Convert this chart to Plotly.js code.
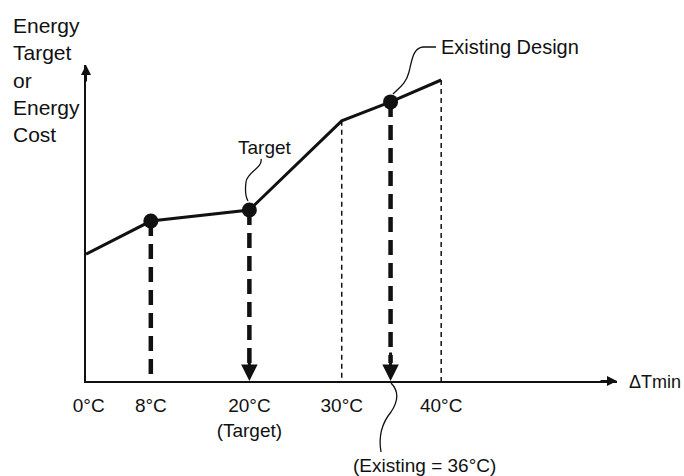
<!DOCTYPE html>
<html>
<head>
<meta charset="utf-8">
<script src="https://cdn.plot.ly/plotly-3.0.1.min.js"></script>
<style>html,body{margin:0;padding:0;background:#fff;}#chart{width:684px;height:476px;}</style>
</head>
<body>
<div id="chart"></div>
<script>
// ---- data (schematic positions) ----
const curveX = [0, 7.3, 18.4, 28.8, 34.3, 40];
const curveY = [42.3, 53.3, 57, 86.7, 93, 100.3];
const pointX = [7.3, 18.4, 34.3];
const pointY = [53.3, 57, 93];
const pointArrow = [false, true, true];
const refX = [28.8, 40];
const refY = [86.7, 100.3];
const tickPos = [0.3, 7.3, 18.4, 28.8, 40];
const tickText = ['0°C', '8°C', '20°C<br>(Target)', '30°C', '40°C'];
const yTitle = 'Energy<br>Target<br>or<br>Energy<br>Cost';
const xTitle = 'ΔTmin';
const targetLabel = 'Target';
const existingLabel = 'Existing Design';
const existingValue = '(Existing = 36°C)';

// ---- layout geometry ----
const L = 86, R = 67, T = 65, Bm = 95, Wd = 684, Ht = 476;
const W = Wd - L - R, H = Ht - T - Bm, BASE = T + H;
const xMax = 59.8, yMax = 105.3;
const FONT = '"Liberation Sans", Arial, sans-serif';
const INK = '#111';
function px(x) { return (x - L) / W; }
function py(y) { return (BASE - y) / H; }
function pt(p) { return px(p[0]) + ',' + py(p[1]); }
function curve(start, segs) { // pixel points -> paper path
  let s = 'M' + pt(start);
  segs.forEach(g => { s += (g.length === 1 ? ' L' : ' C') + g.map(pt).join(' '); });
  return s;
}

const traces = [];
// thin dashed reference lines
refX.forEach((x, i) => traces.push({
  x: [x, x], y: [refY[i], 0], mode: 'lines', hoverinfo: 'skip',
  line: {color: INK, width: 1.5, dash: '5px,4px'}
}));
// thick dashed drop lines
pointX.forEach((x, i) => traces.push({
  x: [x, x], y: [pointY[i], pointArrow[i] ? 6 : 0], mode: 'lines', hoverinfo: 'skip',
  line: {color: INK, width: 4.5, dash: '15px,8px'}
}));
// main curve
traces.push({x: curveX, y: curveY, mode: 'lines', line: {color: INK, width: 3}, hoverinfo: 'skip'});
// markers
traces.push({x: pointX, y: pointY, mode: 'markers', hoverinfo: 'skip',
  marker: {color: INK, size: 15, line: {width: 0}}});

const annotations = [
  {xref: 'paper', yref: 'paper', x: px(11), y: py(12), xanchor: 'left', yanchor: 'top', align: 'left',
   showarrow: false, text: yTitle, font: {family: FONT, size: 21, color: INK}},
  {xref: 'paper', yref: 'paper', x: px(265), y: py(147), xanchor: 'center', yanchor: 'middle',
   showarrow: false, text: targetLabel, font: {family: FONT, size: 19, color: INK}},
  {xref: 'paper', yref: 'paper', x: px(439), y: py(47), xanchor: 'left', yanchor: 'middle',
   showarrow: false, text: existingLabel, font: {family: FONT, size: 20, color: INK}},
  {xref: 'paper', yref: 'paper', x: px(424), y: py(465), xanchor: 'center', yanchor: 'middle',
   showarrow: false, text: existingValue, font: {family: FONT, size: 19, color: INK}},
  {xref: 'paper', yref: 'paper', x: px(627), y: py(382), xanchor: 'left', yanchor: 'middle',
   showarrow: false, text: xTitle, font: {family: FONT, size: 18, color: INK}},
  // axis arrowheads
  {xref: 'x', yref: 'y', x: xMax, y: 0, ax: -18, ay: 0, showarrow: true, arrowhead: 2,
   arrowwidth: 2, arrowsize: 1, arrowcolor: INK, text: ''},
  {xref: 'x', yref: 'y', x: 0, y: yMax, ax: 0, ay: 18, showarrow: true, arrowhead: 2,
   arrowwidth: 2, arrowsize: 1, arrowcolor: INK, text: ''}
];
pointX.forEach((x, i) => {
  if (pointArrow[i]) annotations.push({xref: 'x', yref: 'y', x: x, y: 0, ax: 0, ay: -30,
    showarrow: true, arrowhead: 2, arrowwidth: 3, arrowsize: 1.1, arrowcolor: INK, text: ''});
});

const shapes = [
  {type: 'path', xref: 'paper', yref: 'paper', line: {color: INK, width: 1.3},
   path: curve([261,159], [[[263,168],[247,172],[246,182]], [[245,190],[245,196],[248,201]]])},
  {type: 'path', xref: 'paper', yref: 'paper', line: {color: INK, width: 1.3},
   path: curve([436,47], [[[423,47]], [[413,48],[412,60],[409,72]], [[406,84],[399,88],[393,94]]])},
  {type: 'path', xref: 'paper', yref: 'paper', line: {color: INK, width: 1.3},
   path: curve([391,383], [[[398,390],[399,400],[391,412]], [[382,423],[378,435],[381,452]]])}
];

const layout = {
  width: Wd, height: Ht, margin: {l: L, r: R, t: T, b: Bm, pad: 0},
  paper_bgcolor: '#fff', plot_bgcolor: '#fff', showlegend: false,
  font: {family: FONT, color: INK},
  xaxis: {range: [0, xMax], showgrid: false, zeroline: false, showline: true, linewidth: 2,
    linecolor: INK, tickmode: 'array', tickvals: tickPos, ticktext: tickText, ticks: '',
    ticklabelstandoff: 6, tickfont: {family: FONT, size: 19, color: INK}, fixedrange: true},
  yaxis: {range: [0, yMax], showgrid: false, zeroline: false, showline: true, linewidth: 2,
    linecolor: INK, showticklabels: false, ticks: '', fixedrange: true},
  annotations: annotations, shapes: shapes
};
Plotly.newPlot('chart', traces, layout, {displayModeBar: false, staticPlot: true});
</script>
</body>
</html>
